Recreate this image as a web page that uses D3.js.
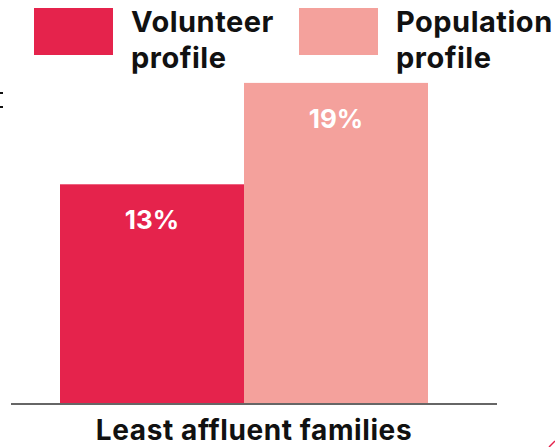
<!DOCTYPE html>
<html><head><meta charset="utf-8">
<script src="https://cdn.jsdelivr.net/npm/d3@7"></script>
<style>html,body{margin:0;padding:0;background:#fff;}svg{display:block;font-family:Inter,"Open Sans",sans-serif;}</style>
</head><body>
<svg id="c" width="555" height="447"></svg>
<script>
const categories = ["Least affluent families"];
const seriesNames = ["Volunteer profile", "Population profile"];
const volunteerValues = [13];
const populationValues = [19];
const colors = ["#E5234C", "#F4A19C"];

const svg = d3.select("#c");
const x0 = d3.scaleBand().domain(categories).range([60, 428]).padding(0);
const x1 = d3.scaleBand().domain(seriesNames).range([0, x0.bandwidth()]).padding(0);
const y = d3.scaleLinear().domain([0, 20]).range([404, 66]);

const rows = categories.map((c, i) => ({cat: c, vals: [volunteerValues[i], populationValues[i]]}));

const g = svg.selectAll("g.cat").data(rows).join("g").attr("class","cat")
  .attr("transform", d => `translate(${x0(d.cat)},0)`);
g.selectAll("rect").data(d => d.vals.map((v, j) => ({v, s: seriesNames[j], j})))
  .join("rect")
  .attr("x", d => x1(d.s)).attr("width", x1.bandwidth())
  .attr("y", d => y(d.v)).attr("height", d => y(0) - y(d.v))
  .attr("fill", d => colors[d.j]);
g.selectAll("text.val").data(d => d.vals.map((v, j) => ({v, s: seriesNames[j]})))
  .join("text").attr("class","val")
  .attr("x", d => x1(d.s) + x1.bandwidth()/2).attr("y", d => y(d.v) + 45)
  .attr("text-anchor","middle").attr("fill","#fff")
  .attr("font-size", 26).attr("font-weight", 700)
  .text(d => d.v + "%");

// baseline axis
const xAxis = d3.axisBottom(x0).tickSize(0).tickPadding(0).tickFormat("");
const ax = svg.append("g").attr("transform", "translate(0,404)").call(xAxis);
ax.select(".domain").attr("d", "M11,0H497").attr("stroke", "#666").attr("stroke-width", 2);

// category label
svg.selectAll("text.cat").data(categories).join("text").attr("class","cat")
  .attr("x", 254).attr("y", 440).attr("text-anchor","middle")
  .attr("font-size", 28).attr("font-weight", 700).attr("fill","#111")
  .attr("letter-spacing", 0.6)
  .text(d => d);

// legend
const legX = [34, 299];
const lg = svg.selectAll("g.leg").data(seriesNames).join("g").attr("class","leg")
  .attr("transform", (d, i) => `translate(${legX[i]},8)`);
lg.append("rect").attr("width", 79).attr("height", 47).attr("fill", (d, i) => colors[i]);
lg.append("text").attr("x", 97).attr("font-size", 29).attr("font-weight", 700).attr("fill", "#111")
  .attr("letter-spacing", 0.5)
  .selectAll("tspan").data(d => d.split(" ")).join("tspan")
  .attr("x", 97).attr("y", (d, i) => 24 + i * 36).text(d => d);

// clipped marks at edges
svg.append("rect").attr("x", 0).attr("y", 92).attr("width", 3).attr("height", 2).attr("fill", "#111");
svg.append("rect").attr("x", 0).attr("y", 106).attr("width", 3).attr("height", 2).attr("fill", "#111");
svg.append("path").attr("d", "M549,447L555,441").attr("stroke", "#E5234C").attr("stroke-width", 1.5);
</script>
</body></html>
